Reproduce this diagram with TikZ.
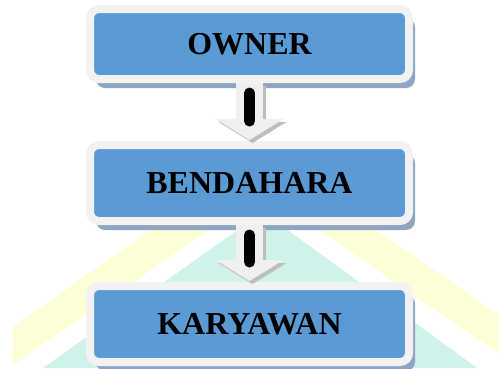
\documentclass[tikz,border=0pt]{standalone}
\usepackage{fontspec}
\setmainfont{Liberation Serif}
\usetikzlibrary{arrows.meta,shadows}
\definecolor{boxblue}{RGB}{91,155,213}
\definecolor{framegrey}{RGB}{242,242,242}
\definecolor{boxshade}{RGB}{143,165,195}
\definecolor{arrowbody}{RGB}{240,240,240}
\definecolor{arrowshade}{RGB}{190,190,190}
\definecolor{markyellow}{RGB}{254,254,214}
\definecolor{markteal}{RGB}{207,242,235}

\begin{document}
\begin{tikzpicture}[x=1pt, y=-1pt, >={Triangle[length=21pt, width=68pt, line width=0pt]},
	rolebox/.style={rectangle, rounded corners=9pt, fill=boxblue, draw=framegrey, line width=8pt, minimum width=319pt, minimum height=76pt, inner sep=0pt, font=\fontsize{32pt}{37pt}\selectfont\bfseries, drop shadow={shadow xshift=6pt, shadow yshift=-9pt, fill=boxshade, opacity=1}},
	handover/.style={->, line width=27pt, draw=arrowbody, shorten >=1pt},
	handovershade/.style={handover, draw=arrowshade, transform canvas={shift={(3pt,-3pt)}}},
	core/.style={line width=11pt, line cap=round, shorten <=10pt, shorten >=20pt}]
	\useasboundingbox (0, 0) rectangle (499, 368);
	\fill[markyellow] (13, 327) -- (262, 151) -- (499, 315) -- (499, 354) -- (264, 192) -- (13, 365) -- cycle;
	\fill[markteal] (43, 368) -- (263, 212) -- (477, 368) -- cycle;
	\node[rolebox, minimum height=70pt] (owner) at (249.5, 44) {OWNER};
	\node[rolebox] (bendahara) at (249.5, 183) {BENDAHARA};
	\node[rolebox] (karyawan) at (249.5, 324) {KARYAWAN};
	\foreach \from/\to in {owner/bendahara, bendahara/karyawan} {
		\draw[handovershade] (\from) -- (\to);
		\draw[handover] (\from) -- (\to);
		\draw[core] (\from) -- (\to);
	}
\end{tikzpicture}
\end{document}
